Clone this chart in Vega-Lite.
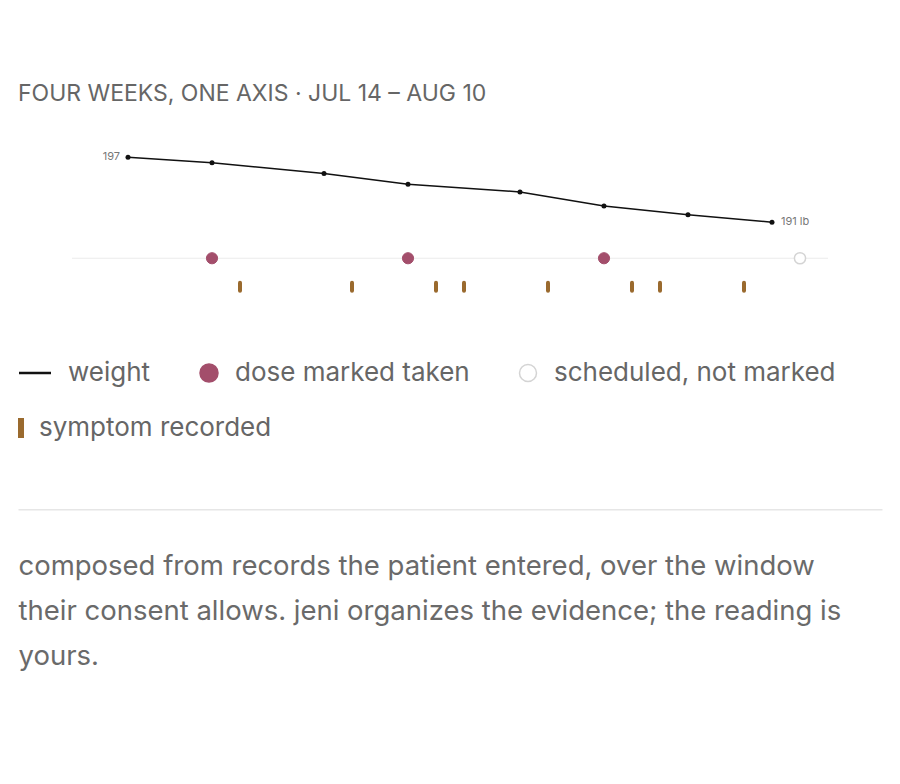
{
  "$schema": "https://vega.github.io/schema/vega-lite/v6.json",
  "width": 864,
  "height": 368.3,
  "autosize": {"type": "pad"},
  "padding": {"left": 18, "right": 18, "top": 83, "bottom": 10},
  "background": "white",
  "title": {
    "text": "FOUR WEEKS, ONE AXIS · JUL 14 – AUG 10",
    "anchor": "start",
    "font": "Inter",
    "fontSize": 23,
    "fontWeight": "normal",
    "color": "#666666",
    "offset": 35
  },
  "datasets": {
    "weights": [
      {"date": "2024-07-16", "weight": 197, "label": "197"},
      {"date": "2024-07-19", "weight": 196.5},
      {"date": "2024-07-23", "weight": 195.5},
      {"date": "2024-07-26", "weight": 194.5},
      {"date": "2024-07-30", "weight": 193.8},
      {"date": "2024-08-02", "weight": 192.5},
      {"date": "2024-08-05", "weight": 191.7},
      {"date": "2024-08-08", "weight": 191, "label": "191 lb"}
    ],
    "doses": [
      {"date": "2024-07-19", "status": "dose marked taken"},
      {"date": "2024-07-26", "status": "dose marked taken"},
      {"date": "2024-08-02", "status": "dose marked taken"},
      {"date": "2024-08-09", "status": "scheduled, not marked"}
    ],
    "symptoms": [
      {"date": "2024-07-20"},
      {"date": "2024-07-24"},
      {"date": "2024-07-27"},
      {"date": "2024-07-28"},
      {"date": "2024-07-31"},
      {"date": "2024-08-03"},
      {"date": "2024-08-04"},
      {"date": "2024-08-07"}
    ],
    "window": [
      {"start": "2024-07-14", "end": "2024-08-10"}
    ]
  },
  "layer": [
    {
      "data": {"name": "weights"},
      "layer": [
        {
          "mark": {"type": "line", "strokeWidth": 1.5},
          "encoding": {
            "x": {
              "field": "date",
              "type": "temporal",
              "scale": {
                "type": "utc",
                "domain": [
                  {"year": 2024, "month": 7, "date": 14, "utc": true},
                  {"year": 2024, "month": 8, "date": 10, "utc": true}
                ],
                "padding": 54,
                "nice": false
              },
              "axis": {
                "title": [
                  "composed from records the patient entered, over the window",
                  "their consent allows. jeni organizes the evidence; the reading is",
                  "yours."
                ],
                "titleAnchor": "start",
                "titleAlign": "left",
                "titleBaseline": "top",
                "titlePadding": 43,
                "titleFont": "Inter",
                "titleFontSize": 27.5,
                "titleFontWeight": "normal",
                "titleColor": "#6a6a6a",
                "titleLineHeight": 45,
                "titleLimit": 2000,
                "labels": false,
                "ticks": false,
                "grid": false,
                "domainColor": "#e6e6e6",
                "domainWidth": 1.5
              }
            },
            "y": {
              "field": "weight",
              "type": "quantitative",
              "scale": {"domain": [164.5, 198.5], "nice": false, "zero": false},
              "axis": null
            },
            "color": {
              "datum": "weight",
              "type": "nominal",
              "title": null,
              "scale": {
                "domain": ["weight", "dose marked taken", "scheduled, not marked"],
                "range": ["#111111", "#a34e6b", "#d4d4d4"]
              },
              "legend": {
                "orient": "none",
                "legendX": 0,
                "legendY": 219,
                "direction": "horizontal",
                "columns": 3,
                "title": null,
                "labelFont": "Inter",
                "labelFontSize": 26,
                "labelColor": "#666666",
                "labelOffset": 13,
                "labelLimit": 500,
                "symbolSize": 400,
                "columnPadding": 45,
                "encode": {
                  "symbols": {
                    "update": {
                      "x": {"signal": "datum.value == 'weight' ? 17 : 13"},
                      "shape": {"signal": "datum.value == 'weight' ? 'M-1,0H1' : 'circle'"},
                      "size": {"signal": "datum.value == 'weight' ? 1024 : datum.value == 'dose marked taken' ? 324 : 289"},
                      "fill": {"signal": "datum.value == 'dose marked taken' ? '#a34e6b' : datum.value == 'scheduled, not marked' ? '#ffffff' : 'transparent'"},
                      "strokeWidth": {"signal": "datum.value == 'weight' ? 2.5 : 1.5"},
                      "opacity": {"value": 1}
                    }
                  },
                  "labels": {
                    "update": {
                      "x": {"signal": "datum.value == 'weight' ? 50 : 39"}
                    }
                  }
                }
              }
            }
          }
        },
        {
          "mark": {"type": "point", "filled": true, "size": 25, "color": "#111111", "opacity": 1},
          "encoding": {
            "x": {"field": "date", "type": "temporal"},
            "y": {"field": "weight", "type": "quantitative"}
          }
        },
        {
          "transform": [{"filter": "datum.label == '197'"}],
          "mark": {"type": "text", "align": "right", "dx": -8, "font": "Inter", "fontSize": 11, "color": "#777777"},
          "encoding": {
            "x": {"field": "date", "type": "temporal"},
            "y": {"field": "weight", "type": "quantitative"},
            "text": {"field": "label"}
          }
        },
        {
          "transform": [{"filter": "datum.label == '191 lb'"}],
          "mark": {"type": "text", "align": "left", "dx": 9, "font": "Inter", "fontSize": 11, "color": "#777777"},
          "encoding": {
            "x": {"field": "date", "type": "temporal"},
            "y": {"field": "weight", "type": "quantitative"},
            "text": {"field": "label"}
          }
        }
      ]
    },
    {
      "layer": [
        {
          "data": {"name": "window"},
          "mark": {"type": "rule", "color": "#ebebeb", "strokeWidth": 1.2},
          "encoding": {
            "x": {"field": "start", "type": "temporal"},
            "x2": {"field": "end"},
            "y": {
              "datum": "dose",
              "type": "nominal",
              "scale": {"type": "point", "domain": ["dose", "symptom"], "range": [117.25, 145.65], "padding": 0},
              "axis": null
            }
          }
        },
        {
          "data": {"name": "doses"},
          "transform": [{"filter": "datum.status == 'dose marked taken'"}],
          "mark": {"type": "point", "filled": false, "fill": "#a34e6b", "strokeWidth": 1, "size": 125, "opacity": 1},
          "encoding": {
            "x": {"field": "date", "type": "temporal"},
            "y": {"datum": "dose", "type": "nominal"},
            "color": {"field": "status", "type": "nominal", "title": null}
          }
        },
        {
          "data": {"name": "doses"},
          "transform": [{"filter": "datum.status == 'scheduled, not marked'"}],
          "mark": {"type": "point", "filled": false, "fill": "#ffffff", "strokeWidth": 1.5, "size": 125, "opacity": 1},
          "encoding": {
            "x": {"field": "date", "type": "temporal"},
            "y": {"datum": "dose", "type": "nominal"},
            "color": {"field": "status", "type": "nominal", "title": null}
          }
        },
        {
          "data": {"name": "symptoms"},
          "mark": {"type": "point", "filled": false, "stroke": "#9a6a2e", "strokeWidth": 4, "strokeCap": "round", "size": 64, "opacity": 1},
          "encoding": {
            "x": {"field": "date", "type": "temporal"},
            "y": {"datum": "symptom", "type": "nominal"},
            "shape": {
              "datum": "symptom recorded",
              "type": "nominal",
              "title": null,
              "scale": {"domain": ["symptom recorded"], "range": ["M0,-1V1"]},
              "legend": {
                "orient": "none",
                "legendX": 0,
                "legendY": 274,
                "title": null,
                "symbolSize": 400,
                "symbolOffset": -10,
                "symbolStrokeColor": "#9a6a2e",
                "symbolStrokeWidth": 6,
                "labelFont": "Inter",
                "labelFontSize": 26,
                "labelColor": "#666666",
                "labelOffset": 5,
                "labelLimit": 500
              }
            }
          }
        }
      ]
    }
  ],
  "resolve": {"scale": {"y": "independent"}, "axis": {"y": "independent"}},
  "config": {
    "view": {"stroke": null},
    "font": "Inter"
  }
}
